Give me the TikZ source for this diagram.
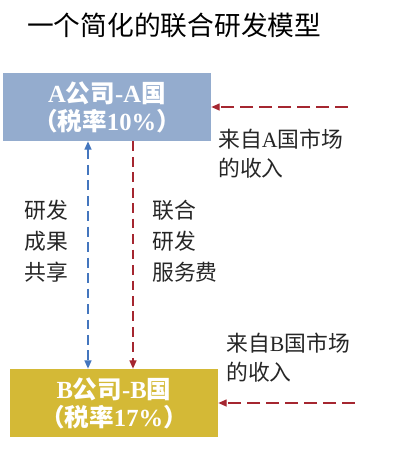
\documentclass[tikz,border=0pt]{standalone}
\usepackage{fontspec}
\setmainfont{Liberation Serif}
\newfontfamily\cjk{Noto Sans CJK SC}
\usepackage{xcolor}
\usepackage{tikz}
\usetikzlibrary{arrows.meta,positioning}

\definecolor{boxblue}{RGB}{148,172,206}
\definecolor{boxgold}{RGB}{212,185,54}
\definecolor{flowred}{RGB}{165,38,48}
\definecolor{flowblue}{RGB}{68,118,190}

\newcommand{\zh}[1]{{\cjk #1}}

\begin{document}
\begin{tikzpicture}[x=0.025cm, y=-0.025cm,
  firm/.style={rectangle, draw=none, minimum width=5.2cm, minimum height=1.7cm,
    align=center, text=white, font=\fontsize{17.5}{20}\selectfont\bfseries},
  note/.style={inner sep=0pt, align=left, text=black!85,
    font=\fontsize{15.5}{22}\selectfont},
  redflow/.style={-{Triangle[length=6pt, width=5pt]}, line width=1pt,
    color=flowred, dash pattern=on 9pt off 4.5pt},
  vflow/.style={line width=1pt, dash pattern=on 7pt off 4pt},
]
  \useasboundingbox (0,0) rectangle (400,450);

  \node[inner sep=0pt, anchor=west, font=\fontsize{19}{22}\selectfont] (title) at (27,25)
    {\zh{一个简化的联合研发模型}};

  \node[firm, fill=boxblue] (firmA) at (107,107)
    {A\zh{公司}-A\zh{国}\\\zh{（税率}10\%\zh{）}};
  \node[firm, fill=boxgold] (firmB) at (114,403)
    {B\zh{公司}-B\zh{国}\\\zh{（税率}17\%\zh{）}};

  % market income
  \coordinate (mktA) at (348,107);
  \coordinate (mktB) at (355,403);
  \draw[redflow] (mktA) -- (firmA.east);
  \draw[redflow] (mktB) -- (firmB.east);
  \node[note, anchor=west, font=\fontsize{15.5}{20.5}\selectfont] (incA) at (218,154)
    {\zh{来自}A\zh{国市场}\\\zh{的收入}};
  \node[note, anchor=west, font=\fontsize{15.5}{20.5}\selectfont] (incB) at (226,358)
    {\zh{来自}B\zh{国市场}\\\zh{的收入}};

  % flows between the two firms
  \coordinate (shareX) at (88,0);
  \coordinate (feeX) at (133,0);
  \draw[vflow, color=flowblue, {Triangle[length=6pt, width=5pt]}-{Triangle[length=6pt, width=5pt]}]
    (firmA.south -| shareX) -- (firmB.north -| shareX);
  \draw[vflow, color=flowred, -{Triangle[length=6pt, width=5pt]}]
    (firmA.south -| feeX) -- (firmB.north -| feeX);

  \node[note, anchor=west] (share) at (24,241) {\zh{研发}\\\zh{成果}\\\zh{共享}};
  \node[note, anchor=west] (fee) at (152,241) {\zh{联合}\\\zh{研发}\\\zh{服务费}};
\end{tikzpicture}
\end{document}
